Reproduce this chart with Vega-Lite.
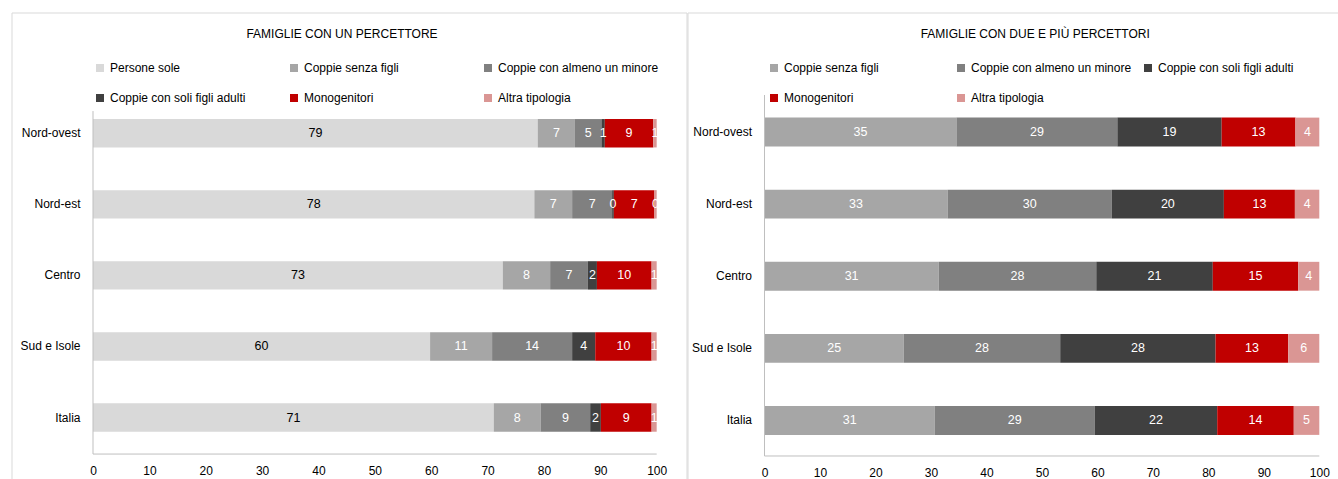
{
  "$schema": "https://vega.github.io/schema/vega-lite/v6.json",
  "padding": {"left": 10.5, "top": 11.5, "right": 0, "bottom": 0},
  "spacing": -3,
  "background": "#ffffff",
  "config": {
    "font": "Liberation Sans, Arial, sans-serif",
    "view": {"stroke": "#d9d9d9", "strokeWidth": 1},
    "axis": {"grid": false, "title": null, "domain": false, "ticks": false, "labelFontSize": 12, "labelColor": "#000000", "labelFont": "Liberation Sans, Arial, sans-serif"},
    "legend": {"labelFont": "Liberation Sans, Arial, sans-serif"},
    "title": {"font": "Liberation Sans, Arial, sans-serif"}
  },
  "datasets": {
    "uno": [
      {"reg": "Nord-ovest", "tipo": "Persone sole", "ord": 1, "v": 78.9},
      {"reg": "Nord-ovest", "tipo": "Coppie senza figli", "ord": 2, "v": 6.6},
      {"reg": "Nord-ovest", "tipo": "Coppie con almeno un minore", "ord": 3, "v": 4.7},
      {"reg": "Nord-ovest", "tipo": "Coppie con soli figli adulti", "ord": 4, "v": 0.6},
      {"reg": "Nord-ovest", "tipo": "Monogenitori", "ord": 5, "v": 8.6},
      {"reg": "Nord-ovest", "tipo": "Altra tipologia", "ord": 6, "v": 0.6},
      {"reg": "Nord-est", "tipo": "Persone sole", "ord": 1, "v": 78.3},
      {"reg": "Nord-est", "tipo": "Coppie senza figli", "ord": 2, "v": 6.7},
      {"reg": "Nord-est", "tipo": "Coppie con almeno un minore", "ord": 3, "v": 7.1},
      {"reg": "Nord-est", "tipo": "Coppie con soli figli adulti", "ord": 4, "v": 0.3},
      {"reg": "Nord-est", "tipo": "Monogenitori", "ord": 5, "v": 7.2},
      {"reg": "Nord-est", "tipo": "Altra tipologia", "ord": 6, "v": 0.4},
      {"reg": "Centro", "tipo": "Persone sole", "ord": 1, "v": 72.7},
      {"reg": "Centro", "tipo": "Coppie senza figli", "ord": 2, "v": 8.4},
      {"reg": "Centro", "tipo": "Coppie con almeno un minore", "ord": 3, "v": 6.7},
      {"reg": "Centro", "tipo": "Coppie con soli figli adulti", "ord": 4, "v": 1.6},
      {"reg": "Centro", "tipo": "Monogenitori", "ord": 5, "v": 9.7},
      {"reg": "Centro", "tipo": "Altra tipologia", "ord": 6, "v": 0.9},
      {"reg": "Sud e Isole", "tipo": "Persone sole", "ord": 1, "v": 59.8},
      {"reg": "Sud e Isole", "tipo": "Coppie senza figli", "ord": 2, "v": 11.0},
      {"reg": "Sud e Isole", "tipo": "Coppie con almeno un minore", "ord": 3, "v": 14.2},
      {"reg": "Sud e Isole", "tipo": "Coppie con soli figli adulti", "ord": 4, "v": 4.1},
      {"reg": "Sud e Isole", "tipo": "Monogenitori", "ord": 5, "v": 10.0},
      {"reg": "Sud e Isole", "tipo": "Altra tipologia", "ord": 6, "v": 0.9},
      {"reg": "Italia", "tipo": "Persone sole", "ord": 1, "v": 71.1},
      {"reg": "Italia", "tipo": "Coppie senza figli", "ord": 2, "v": 8.3},
      {"reg": "Italia", "tipo": "Coppie con almeno un minore", "ord": 3, "v": 8.8},
      {"reg": "Italia", "tipo": "Coppie con soli figli adulti", "ord": 4, "v": 1.9},
      {"reg": "Italia", "tipo": "Monogenitori", "ord": 5, "v": 9.0},
      {"reg": "Italia", "tipo": "Altra tipologia", "ord": 6, "v": 0.9}
    ],
    "due": [
      {"reg": "Nord-ovest", "tipo": "Coppie senza figli", "ord": 2, "v": 34.6},
      {"reg": "Nord-ovest", "tipo": "Coppie con almeno un minore", "ord": 3, "v": 29.0},
      {"reg": "Nord-ovest", "tipo": "Coppie con soli figli adulti", "ord": 4, "v": 18.8},
      {"reg": "Nord-ovest", "tipo": "Monogenitori", "ord": 5, "v": 13.3},
      {"reg": "Nord-ovest", "tipo": "Altra tipologia", "ord": 6, "v": 4.3},
      {"reg": "Nord-est", "tipo": "Coppie senza figli", "ord": 2, "v": 33.0},
      {"reg": "Nord-est", "tipo": "Coppie con almeno un minore", "ord": 3, "v": 29.6},
      {"reg": "Nord-est", "tipo": "Coppie con soli figli adulti", "ord": 4, "v": 20.2},
      {"reg": "Nord-est", "tipo": "Monogenitori", "ord": 5, "v": 12.8},
      {"reg": "Nord-est", "tipo": "Altra tipologia", "ord": 6, "v": 4.4},
      {"reg": "Centro", "tipo": "Coppie senza figli", "ord": 2, "v": 31.4},
      {"reg": "Centro", "tipo": "Coppie con almeno un minore", "ord": 3, "v": 28.4},
      {"reg": "Centro", "tipo": "Coppie con soli figli adulti", "ord": 4, "v": 21.0},
      {"reg": "Centro", "tipo": "Monogenitori", "ord": 5, "v": 15.4},
      {"reg": "Centro", "tipo": "Altra tipologia", "ord": 6, "v": 3.8},
      {"reg": "Sud e Isole", "tipo": "Coppie senza figli", "ord": 2, "v": 25.1},
      {"reg": "Sud e Isole", "tipo": "Coppie con almeno un minore", "ord": 3, "v": 28.2},
      {"reg": "Sud e Isole", "tipo": "Coppie con soli figli adulti", "ord": 4, "v": 28.0},
      {"reg": "Sud e Isole", "tipo": "Monogenitori", "ord": 5, "v": 13.1},
      {"reg": "Sud e Isole", "tipo": "Altra tipologia", "ord": 6, "v": 5.6},
      {"reg": "Italia", "tipo": "Coppie senza figli", "ord": 2, "v": 30.7},
      {"reg": "Italia", "tipo": "Coppie con almeno un minore", "ord": 3, "v": 28.8},
      {"reg": "Italia", "tipo": "Coppie con soli figli adulti", "ord": 4, "v": 22.1},
      {"reg": "Italia", "tipo": "Monogenitori", "ord": 5, "v": 13.8},
      {"reg": "Italia", "tipo": "Altra tipologia", "ord": 6, "v": 4.6}
    ]
  },
  "hconcat": [
    {
      "width": 675,
      "height": 467.5,
      "title": {"text": "FAMIGLIE CON UN PERCETTORE", "offset": -28.5, "dx": -7, "fontSize": 12, "fontWeight": "normal", "anchor": "middle", "color": "#000000"},
      "layer": [
        {
          "data": {"name": "uno"},
          "mark": {"type": "bar", "height": {"band": 0.691}},
          "encoding": {
            "y": {"field": "reg", "type": "nominal", "scale": {"domain": ["Nord-ovest", "Nord-est", "Centro", "Sud e Isole", "Italia"], "paddingInner": 0.422, "paddingOuter": 1, "align": 0.705}, "axis": {"offset": -81.5, "labelPadding": 13}},
            "x": {"field": "v", "type": "quantitative", "stack": "zero", "scale": {"domain": [-14.46, 105.29], "nice": false, "zero": false}, "axis": {"values": [0, 10, 20, 30, 40, 50, 60, 70, 80, 90, 100], "offset": -15, "labelPadding": 0}},
            "color": {"field": "tipo", "type": "nominal", "scale": {"domain": ["Persone sole", "Coppie senza figli", "Coppie con almeno un minore", "Coppie con soli figli adulti", "Monogenitori", "Altra tipologia"], "range": ["#d9d9d9", "#a6a6a6", "#808080", "#404040", "#c00000", "#da9694"]}, "legend": {"orient": "none", "legendX": 82.5, "legendY": 49.5, "direction": "horizontal", "columns": 3, "title": null, "symbolType": "square", "symbolSize": 64, "symbolStrokeWidth": 0, "labelFontSize": 12, "labelLimit": 400, "labelColor": "#000000", "gridAlign": "all", "columnPadding": 17, "rowPadding": 18, "labelOffset": 4, "padding": 0}},
            "order": {"field": "ord", "type": "quantitative"}
          }
        },
        {
          "data": {"name": "uno"},
          "mark": {"type": "text", "fontSize": 12.5, "align": "center", "baseline": "middle"},
          "encoding": {
            "y": {"field": "reg", "type": "nominal"},
            "x": {"field": "v", "type": "quantitative", "stack": "zero", "bandPosition": 0.5},
            "text": {"field": "v", "type": "quantitative", "format": ".0f"},
            "color": {"condition": {"test": "datum.tipo === 'Persone sole'", "value": "#000000"}, "value": "#ffffff"},
            "order": {"field": "ord", "type": "quantitative"}
          }
        },
        {
          "data": {"values": [{}]},
          "mark": {"type": "rule", "color": "#bfbfbf", "strokeWidth": 1},
          "encoding": {
            "x": {"datum": 0, "type": "quantitative"},
            "y": {"datum": "Nord-ovest", "type": "nominal", "bandPosition": -0.04},
            "y2": {"datum": "Italia", "bandPosition": 1.389}
          }
        },
        {
          "data": {"values": [{}]},
          "mark": {"type": "rule", "color": "#bfbfbf", "strokeWidth": 1},
          "encoding": {
            "x": {"datum": 0, "type": "quantitative"},
            "x2": {"datum": 100},
            "y": {"datum": "Italia", "type": "nominal", "bandPosition": 1.389}
          }
        }
      ]
    },
    {
      "width": 651.5,
      "height": 467.5,
      "title": {"text": "FAMIGLIE CON DUE E PIÙ PERCETTORI", "offset": -28.5, "dx": 22, "fontSize": 12, "fontWeight": "normal", "anchor": "middle", "color": "#000000"},
      "layer": [
        {
          "data": {"name": "due"},
          "mark": {"type": "bar", "height": {"band": 0.828}},
          "encoding": {
            "y": {"field": "reg", "type": "nominal", "scale": {"domain": ["Nord-ovest", "Nord-est", "Centro", "Sud e Isole", "Italia"], "paddingInner": 0.517, "paddingOuter": 1, "align": 0.708}, "axis": {"offset": -77, "labelPadding": 13}},
            "x": {"field": "v", "type": "quantitative", "stack": "zero", "scale": {"domain": [-13.88, 103.55], "nice": false, "zero": false}, "axis": {"values": [0, 10, 20, 30, 40, 50, 60, 70, 80, 90, 100], "offset": -13, "labelPadding": 0}},
            "color": {"field": "tipo", "type": "nominal", "scale": {"domain": ["Coppie senza figli", "Coppie con almeno un minore", "Coppie con soli figli adulti", "Monogenitori", "Altra tipologia"], "range": ["#a6a6a6", "#808080", "#404040", "#c00000", "#da9694"]}, "legend": {"orient": "none", "legendX": 80.5, "legendY": 49.5, "direction": "horizontal", "columns": 3, "title": null, "symbolType": "square", "symbolSize": 64, "symbolStrokeWidth": 0, "labelFontSize": 12, "labelLimit": 400, "labelColor": "#000000", "gridAlign": "all", "columnPadding": 10, "rowPadding": 18, "labelOffset": 4, "padding": 0}},
            "order": {"field": "ord", "type": "quantitative"}
          }
        },
        {
          "data": {"name": "due"},
          "mark": {"type": "text", "fontSize": 12.5, "align": "center", "baseline": "middle", "color": "#ffffff"},
          "encoding": {
            "y": {"field": "reg", "type": "nominal"},
            "x": {"field": "v", "type": "quantitative", "stack": "zero", "bandPosition": 0.5},
            "text": {"field": "v", "type": "quantitative", "format": ".0f"},
            "order": {"field": "ord", "type": "quantitative"}
          }
        },
        {
          "data": {"values": [{}]},
          "mark": {"type": "rule", "color": "#bfbfbf", "strokeWidth": 1},
          "encoding": {
            "x": {"datum": 0, "type": "quantitative"},
            "y": {"datum": "Nord-ovest", "type": "nominal", "bandPosition": -0.563},
            "y2": {"datum": "Italia", "bandPosition": 1.52}
          }
        },
        {
          "data": {"values": [{}]},
          "mark": {"type": "rule", "color": "#bfbfbf", "strokeWidth": 1},
          "encoding": {
            "x": {"datum": 0, "type": "quantitative"},
            "x2": {"datum": 100},
            "y": {"datum": "Italia", "type": "nominal", "bandPosition": 1.52}
          }
        }
      ]
    }
  ],
  "resolve": {"scale": {"x": "independent", "y": "independent", "color": "independent"}, "legend": {"color": "independent"}}
}
